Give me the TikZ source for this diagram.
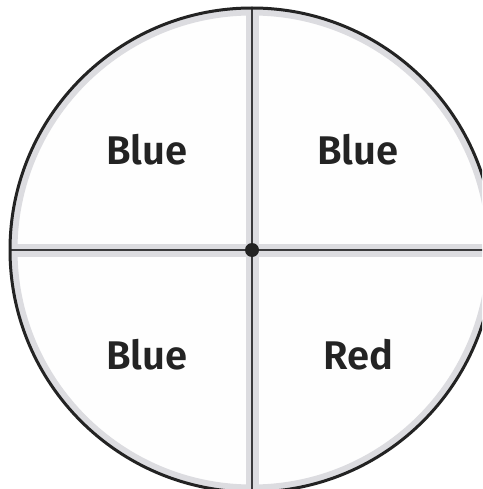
\documentclass[tikz,border=0pt]{standalone}
\usepackage{fontspec}
\setmainfont{Fira Sans}[BoldFont={* SemiBold}]
\definecolor{band}{HTML}{DCDCE0}
\definecolor{rim}{HTML}{232323}
\definecolor{axis}{HTML}{3A3A3C}
\begin{document}
\begin{tikzpicture}[x=1pt,y=-1pt,
  lbl/.style={font=\fontsize{40}{40}\selectfont\bfseries, text=rim}]
\useasboundingbox (0,0) rectangle (482,489);
\clip (0,0) rectangle (482,489);
\fill[white] (0,0) rectangle (482,489);
\coordinate (c) at (252,250);
\begin{scope}
  \clip (c) circle (242);
  \fill[white!99!gray] (c) circle (242);
  \draw[band, line width=7pt] (c) circle (238);
  \draw[band, line width=13pt] (0,250) -- (482+20,250);
  \draw[band, line width=13pt] (252,0) -- (252,489+20);
  \draw[axis, line width=2.8pt] (0,250) -- (482+20,250);
  \draw[axis, line width=2.8pt] (252,0) -- (252,489+20);
\end{scope}
\draw[rim, line width=3pt] (c) circle (242);
\fill[rim] (c) circle (7);
\node[lbl] (q1) at (147,150) {Blue};
\node[lbl] (q2) at (358,150) {Blue};
\node[lbl] (q3) at (147,355) {Blue};
\node[lbl] (q4) at (358,355) {Red};
\end{tikzpicture}
\end{document}
